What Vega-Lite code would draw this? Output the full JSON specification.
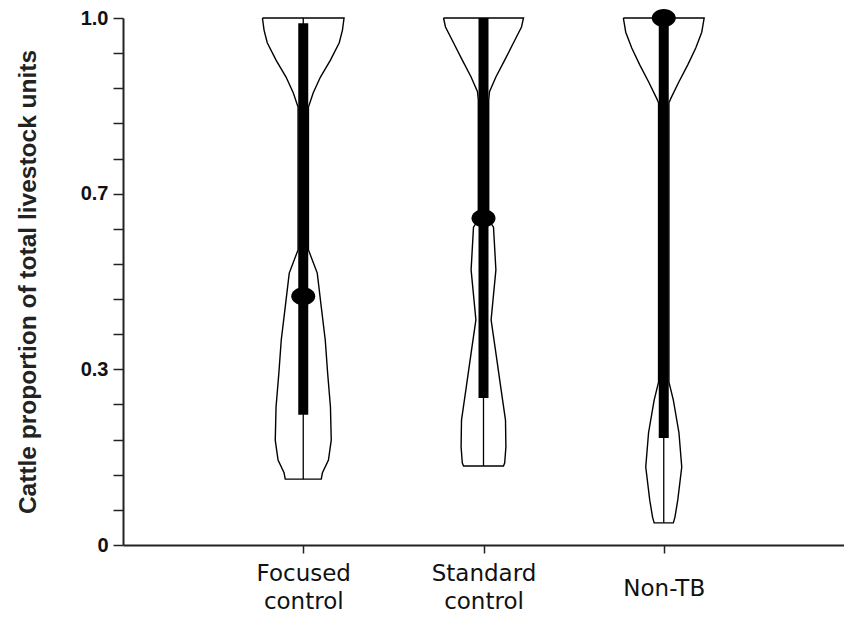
{
  "$schema": "https://vega.github.io/schema/vega-lite/v6.json",
  "width": 721,
  "height": 527,
  "autosize": {"type": "none"},
  "padding": {"left": 123, "top": 18, "right": 0, "bottom": 75},
  "background": "white",
  "config": {"view": {"stroke": null}, "axis": {"grid": false}},
  "datasets": {
    "violin": [
      {"g": "Focused control", "o": 0, "v": 1.0, "w": -1.02},
      {"g": "Focused control", "o": 1, "v": 1.0, "w": 1.02},
      {"g": "Focused control", "o": 2, "v": 0.977, "w": 0.98},
      {"g": "Focused control", "o": 3, "v": 0.953, "w": 0.9},
      {"g": "Focused control", "o": 4, "v": 0.92, "w": 0.68},
      {"g": "Focused control", "o": 5, "v": 0.888, "w": 0.43},
      {"g": "Focused control", "o": 6, "v": 0.858, "w": 0.25},
      {"g": "Focused control", "o": 7, "v": 0.831, "w": 0.13},
      {"g": "Focused control", "o": 8, "v": 0.56, "w": 0.13},
      {"g": "Focused control", "o": 9, "v": 0.516, "w": 0.35},
      {"g": "Focused control", "o": 10, "v": 0.452, "w": 0.45},
      {"g": "Focused control", "o": 11, "v": 0.389, "w": 0.55},
      {"g": "Focused control", "o": 12, "v": 0.326, "w": 0.61},
      {"g": "Focused control", "o": 13, "v": 0.262, "w": 0.68},
      {"g": "Focused control", "o": 14, "v": 0.199, "w": 0.7},
      {"g": "Focused control", "o": 15, "v": 0.161, "w": 0.63},
      {"g": "Focused control", "o": 16, "v": 0.137, "w": 0.48},
      {"g": "Focused control", "o": 17, "v": 0.125, "w": 0.45},
      {"g": "Focused control", "o": 18, "v": 0.125, "w": -0.45},
      {"g": "Focused control", "o": 19, "v": 0.137, "w": -0.48},
      {"g": "Focused control", "o": 20, "v": 0.161, "w": -0.63},
      {"g": "Focused control", "o": 21, "v": 0.199, "w": -0.7},
      {"g": "Focused control", "o": 22, "v": 0.262, "w": -0.68},
      {"g": "Focused control", "o": 23, "v": 0.326, "w": -0.61},
      {"g": "Focused control", "o": 24, "v": 0.389, "w": -0.55},
      {"g": "Focused control", "o": 25, "v": 0.452, "w": -0.45},
      {"g": "Focused control", "o": 26, "v": 0.516, "w": -0.35},
      {"g": "Focused control", "o": 27, "v": 0.56, "w": -0.13},
      {"g": "Focused control", "o": 28, "v": 0.831, "w": -0.13},
      {"g": "Focused control", "o": 29, "v": 0.858, "w": -0.25},
      {"g": "Focused control", "o": 30, "v": 0.888, "w": -0.43},
      {"g": "Focused control", "o": 31, "v": 0.92, "w": -0.68},
      {"g": "Focused control", "o": 32, "v": 0.953, "w": -0.9},
      {"g": "Focused control", "o": 33, "v": 0.977, "w": -0.98},
      {"g": "Focused control", "o": 34, "v": 1.0, "w": -1.02},

      {"g": "Standard control", "o": 0, "v": 1.0, "w": -1.0},
      {"g": "Standard control", "o": 1, "v": 1.0, "w": 1.0},
      {"g": "Standard control", "o": 2, "v": 0.983, "w": 0.95},
      {"g": "Standard control", "o": 3, "v": 0.953, "w": 0.75},
      {"g": "Standard control", "o": 4, "v": 0.92, "w": 0.53},
      {"g": "Standard control", "o": 5, "v": 0.888, "w": 0.31},
      {"g": "Standard control", "o": 6, "v": 0.86, "w": 0.15},
      {"g": "Standard control", "o": 7, "v": 0.844, "w": 0.13},
      {"g": "Standard control", "o": 8, "v": 0.617, "w": 0.13},
      {"g": "Standard control", "o": 9, "v": 0.603, "w": 0.25},
      {"g": "Standard control", "o": 10, "v": 0.522, "w": 0.31},
      {"g": "Standard control", "o": 11, "v": 0.459, "w": 0.23},
      {"g": "Standard control", "o": 12, "v": 0.427, "w": 0.19},
      {"g": "Standard control", "o": 13, "v": 0.364, "w": 0.31},
      {"g": "Standard control", "o": 14, "v": 0.3, "w": 0.43},
      {"g": "Standard control", "o": 15, "v": 0.237, "w": 0.55},
      {"g": "Standard control", "o": 16, "v": 0.186, "w": 0.56},
      {"g": "Standard control", "o": 17, "v": 0.156, "w": 0.53},
      {"g": "Standard control", "o": 18, "v": 0.15, "w": 0.5},
      {"g": "Standard control", "o": 19, "v": 0.15, "w": -0.5},
      {"g": "Standard control", "o": 20, "v": 0.156, "w": -0.53},
      {"g": "Standard control", "o": 21, "v": 0.186, "w": -0.56},
      {"g": "Standard control", "o": 22, "v": 0.237, "w": -0.55},
      {"g": "Standard control", "o": 23, "v": 0.3, "w": -0.43},
      {"g": "Standard control", "o": 24, "v": 0.364, "w": -0.31},
      {"g": "Standard control", "o": 25, "v": 0.427, "w": -0.19},
      {"g": "Standard control", "o": 26, "v": 0.459, "w": -0.23},
      {"g": "Standard control", "o": 27, "v": 0.522, "w": -0.31},
      {"g": "Standard control", "o": 28, "v": 0.603, "w": -0.25},
      {"g": "Standard control", "o": 29, "v": 0.617, "w": -0.13},
      {"g": "Standard control", "o": 30, "v": 0.844, "w": -0.13},
      {"g": "Standard control", "o": 31, "v": 0.86, "w": -0.15},
      {"g": "Standard control", "o": 32, "v": 0.888, "w": -0.31},
      {"g": "Standard control", "o": 33, "v": 0.92, "w": -0.53},
      {"g": "Standard control", "o": 34, "v": 0.953, "w": -0.75},
      {"g": "Standard control", "o": 35, "v": 0.983, "w": -0.95},
      {"g": "Standard control", "o": 36, "v": 1.0, "w": -1.0},

      {"g": "Non-TB", "o": 0, "v": 1.0, "w": -1.01},
      {"g": "Non-TB", "o": 1, "v": 1.0, "w": 1.01},
      {"g": "Non-TB", "o": 2, "v": 0.973, "w": 0.95},
      {"g": "Non-TB", "o": 3, "v": 0.943, "w": 0.8},
      {"g": "Non-TB", "o": 4, "v": 0.911, "w": 0.6},
      {"g": "Non-TB", "o": 5, "v": 0.879, "w": 0.38},
      {"g": "Non-TB", "o": 6, "v": 0.848, "w": 0.18},
      {"g": "Non-TB", "o": 7, "v": 0.839, "w": 0.13},
      {"g": "Non-TB", "o": 8, "v": 0.309, "w": 0.13},
      {"g": "Non-TB", "o": 9, "v": 0.275, "w": 0.24},
      {"g": "Non-TB", "o": 10, "v": 0.213, "w": 0.38},
      {"g": "Non-TB", "o": 11, "v": 0.148, "w": 0.45},
      {"g": "Non-TB", "o": 12, "v": 0.085, "w": 0.35},
      {"g": "Non-TB", "o": 13, "v": 0.053, "w": 0.28},
      {"g": "Non-TB", "o": 14, "v": 0.042, "w": 0.24},
      {"g": "Non-TB", "o": 15, "v": 0.042, "w": -0.24},
      {"g": "Non-TB", "o": 16, "v": 0.053, "w": -0.28},
      {"g": "Non-TB", "o": 17, "v": 0.085, "w": -0.35},
      {"g": "Non-TB", "o": 18, "v": 0.148, "w": -0.45},
      {"g": "Non-TB", "o": 19, "v": 0.213, "w": -0.38},
      {"g": "Non-TB", "o": 20, "v": 0.275, "w": -0.24},
      {"g": "Non-TB", "o": 21, "v": 0.309, "w": -0.13},
      {"g": "Non-TB", "o": 22, "v": 0.839, "w": -0.13},
      {"g": "Non-TB", "o": 23, "v": 0.848, "w": -0.18},
      {"g": "Non-TB", "o": 24, "v": 0.879, "w": -0.38},
      {"g": "Non-TB", "o": 25, "v": 0.911, "w": -0.6},
      {"g": "Non-TB", "o": 26, "v": 0.943, "w": -0.8},
      {"g": "Non-TB", "o": 27, "v": 0.973, "w": -0.95},
      {"g": "Non-TB", "o": 28, "v": 1.0, "w": -1.01}
    ],
    "box": [
      {"g": "Focused control", "lo": 0.125, "q1": 0.247, "med": 0.472, "q3": 0.99, "hi": 1.0},
      {"g": "Standard control", "lo": 0.15, "q1": 0.279, "med": 0.62, "q3": 1.0, "hi": 1.0},
      {"g": "Non-TB", "lo": 0.042, "q1": 0.203, "med": 1.0, "q3": 0.995, "hi": 1.0}
    ]
  },
  "encoding": {
    "x": {
      "field": "g",
      "type": "nominal",
      "sort": ["Focused control", "Standard control", "Non-TB"],
      "scale": {"type": "point", "padding": 1, "domain": ["Focused control", "Standard control", "Non-TB"]},
      "axis": {
        "title": null,
        "domainColor": "#222",
        "domainWidth": 2,
        "tickColor": "#222",
        "tickWidth": 1.5,
        "tickSize": 8,
        "labelAngle": 0,
        "labelFont": "DejaVu Sans",
        "labelFontSize": 23,
        "labelColor": "#111",
        "labelBaseline": "middle",
        "labelPadding": {"condition": {"test": "datum.value == 'Non-TB'", "value": 35}, "value": 20},
        "labelLineHeight": 28,
        "labelExpr": "datum.label == 'Non-TB' ? 'Non-TB' : split(datum.label, ' ')"
      }
    }
  },
  "layer": [
    {
      "data": {"name": "violin"},
      "mark": {"type": "line", "color": "black", "strokeWidth": 1.4},
      "encoding": {
        "xOffset": {"field": "w", "type": "quantitative", "scale": {"domain": [-1, 1], "range": [-40, 40]}},
        "y": {
          "field": "v",
          "type": "quantitative",
          "scale": {"domain": [0, 1], "nice": false},
          "axis": {
            "title": "Cattle proportion of total livestock units",
            "titleFont": "Liberation Sans",
            "titleFontSize": 24.5,
            "titleFontWeight": "bold",
            "titleColor": "#222",
            "titlePadding": 40,
            "tickCount": 40,
            "values": [0, 0.0667, 0.1333, 0.2, 0.2667, 0.3333, 0.4, 0.4667, 0.5333, 0.6, 0.6667, 0.7333, 0.8, 0.8667, 0.9333, 1],
            "labelExpr": "datum.value == 0 ? '0' : (abs(datum.value - 0.3333) < 0.01 ? '0.3' : (abs(datum.value - 0.6667) < 0.01 ? '0.7' : (datum.value == 1 ? '1.0' : '')))",
            "labelOverlap": false,
            "labelFont": "Liberation Sans",
            "labelFontSize": 20,
            "labelFontWeight": "bold",
            "labelColor": "#111",
            "labelPadding": 5,
            "tickSize": 10,
            "tickColor": "#222",
            "tickWidth": 1.5,
            "domainColor": "#222",
            "domainWidth": 2
          }
        },
        "detail": {"field": "g"},
        "order": {"field": "o", "type": "quantitative"}
      }
    },
    {
      "data": {"name": "box"},
      "mark": {"type": "rule", "color": "black", "strokeWidth": 1.3},
      "encoding": {
        "y": {"field": "lo", "type": "quantitative"},
        "y2": {"field": "hi"}
      }
    },
    {
      "data": {"name": "box"},
      "mark": {"type": "rule", "color": "black", "strokeWidth": 10},
      "encoding": {
        "y": {"field": "q1", "type": "quantitative"},
        "y2": {"field": "q3"}
      }
    },
    {
      "data": {"name": "box"},
      "mark": {"type": "point", "filled": true, "color": "black", "opacity": 1, "size": 576, "shape": "M-1,0A1,0.75 0 1,0 1,0A1,0.75 0 1,0 -1,0Z"},
      "encoding": {
        "y": {"field": "med", "type": "quantitative"}
      }
    }
  ]
}
